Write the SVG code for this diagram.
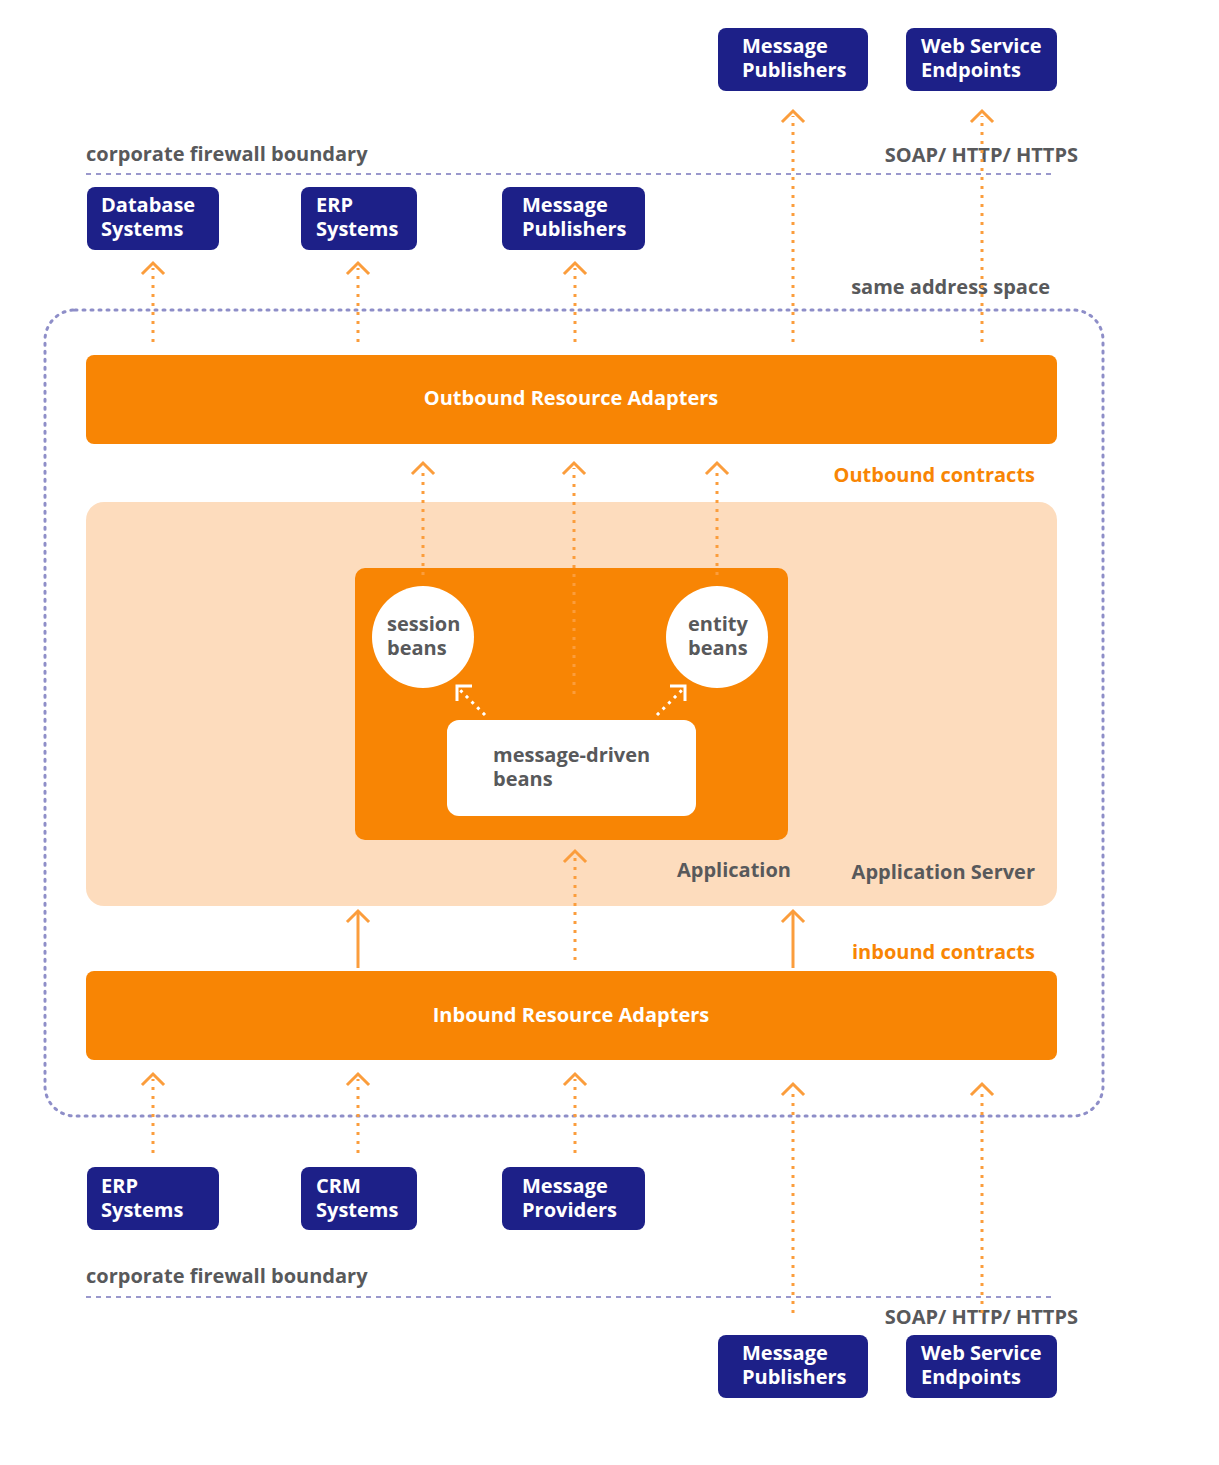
<svg xmlns="http://www.w3.org/2000/svg" width="1219" height="1465" viewBox="0 0 1219 1465">
<style>
text{font-family:"Open Sans","Liberation Sans",sans-serif;font-weight:700;font-size:20px}
.nb{fill:#1d2088}
.nt{fill:#ffffff}
.gt{fill:#58595b}
.ot{fill:#f88504}
.bar{fill:#f88504}
.dl{stroke:#fb9d3c;stroke-width:3;stroke-dasharray:3 6;fill:none}
.sl{stroke:#fb9d3c;stroke-width:3;fill:none}
.hd{stroke:#fb9d3c;stroke-width:3;fill:none;stroke-linecap:square}
.fw{stroke:#9a98cc;stroke-width:2;stroke-dasharray:5 5;fill:none}
.wd{stroke:#ffffff;stroke-width:3;stroke-dasharray:3 5;fill:none}
.wh{stroke:#ffffff;stroke-width:3;fill:none}
</style>
<rect width="1219" height="1465" fill="#ffffff"/>
<g id="boundaries">
<rect x="45" y="310" width="1058" height="806" rx="30" fill="none" stroke="#8e8ec8" stroke-width="3" stroke-dasharray="2 6" stroke-linecap="round"/>
<line class="fw" x1="86" y1="174" x2="1055" y2="174"/>
<line class="fw" x1="86" y1="1297" x2="1055" y2="1297"/>
<text class="gt" x="86" y="161">corporate firewall boundary</text>
<text class="gt" x="1078" y="162" text-anchor="end">SOAP/ HTTP/ HTTPS</text>
<text class="gt" x="1050" y="294" text-anchor="end">same address space</text>
<text class="gt" x="86" y="1283">corporate firewall boundary</text>
<text class="gt" x="1078" y="1324" text-anchor="end">SOAP/ HTTP/ HTTPS</text>
</g>
<g id="app-server">
<rect x="86" y="502" width="971" height="404" rx="18" fill="#fddcbd"/>
<text class="gt" x="1035" y="879" text-anchor="end">Application Server</text>
</g>
<g id="application">
<rect x="355" y="568" width="433" height="272" rx="10" fill="#f88504"/>
<text class="gt" x="677" y="877">Application</text>
</g>
<g id="outbound">
<rect class="bar" x="86" y="355" width="971" height="89" rx="8"/>
<text class="nt" x="571" y="405" text-anchor="middle">Outbound Resource Adapters</text>
</g>
<g id="inbound">
<rect class="bar" x="86" y="971" width="971" height="89" rx="8"/>
<text class="nt" x="571" y="1022" text-anchor="middle">Inbound Resource Adapters</text>
</g>
<text class="ot" x="1035" y="482" text-anchor="end">Outbound contracts</text>
<text class="ot" x="1035" y="959" text-anchor="end">inbound contracts</text>
<g id="session-beans">
<circle cx="423" cy="637" r="51" fill="#ffffff"/>
<text class="gt" x="387" y="631">session</text>
<text class="gt" x="387" y="655">beans</text>
</g>
<g id="entity-beans">
<circle cx="717" cy="637" r="51" fill="#ffffff"/>
<text class="gt" x="688" y="631">entity</text>
<text class="gt" x="688" y="655">beans</text>
</g>
<g id="mdb">
<rect x="447" y="720" width="249" height="96" rx="12" fill="#ffffff"/>
<text class="gt" x="493" y="762">message-driven</text>
<text class="gt" x="493" y="786">beans</text>
</g>
<g id="n-top-mp"><rect class="nb" x="718" y="28" width="150" height="63" rx="8"/><text class="nt" x="742" y="53">Message</text><text class="nt" x="742" y="77">Publishers</text></g>
<g id="n-top-ws"><rect class="nb" x="906" y="28" width="151" height="63" rx="8"/><text class="nt" x="921" y="53">Web Service</text><text class="nt" x="921" y="77">Endpoints</text></g>
<g id="n-db"><rect class="nb" x="87" y="187" width="132" height="63" rx="8"/><text class="nt" x="101" y="212">Database</text><text class="nt" x="101" y="236">Systems</text></g>
<g id="n-erp1"><rect class="nb" x="301" y="187" width="116" height="63" rx="8"/><text class="nt" x="316" y="212">ERP</text><text class="nt" x="316" y="236">Systems</text></g>
<g id="n-mp1"><rect class="nb" x="502" y="187" width="143" height="63" rx="8"/><text class="nt" x="522" y="212">Message</text><text class="nt" x="522" y="236">Publishers</text></g>
<g id="n-erp2"><rect class="nb" x="87" y="1167" width="132" height="63" rx="8"/><text class="nt" x="101" y="1193">ERP</text><text class="nt" x="101" y="1217">Systems</text></g>
<g id="n-crm"><rect class="nb" x="301" y="1167" width="116" height="63" rx="8"/><text class="nt" x="316" y="1193">CRM</text><text class="nt" x="316" y="1217">Systems</text></g>
<g id="n-mprov"><rect class="nb" x="502" y="1167" width="143" height="63" rx="8"/><text class="nt" x="522" y="1193">Message</text><text class="nt" x="522" y="1217">Providers</text></g>
<g id="n-bot-mp"><rect class="nb" x="718" y="1335" width="150" height="63" rx="8"/><text class="nt" x="742" y="1360">Message</text><text class="nt" x="742" y="1384">Publishers</text></g>
<g id="n-bot-ws"><rect class="nb" x="906" y="1335" width="151" height="63" rx="8"/><text class="nt" x="921" y="1360">Web Service</text><text class="nt" x="921" y="1384">Endpoints</text></g>
<g id="connectors">
<line class="dl" x1="793" y1="342" x2="793" y2="116"/><path class="hd" d="M783 121 L793 111 L803 121"/>
<line class="dl" x1="982" y1="342" x2="982" y2="116"/><path class="hd" d="M972 121 L982 111 L992 121"/>
<line class="dl" x1="153" y1="342" x2="153" y2="268"/><path class="hd" d="M143 273 L153 263 L163 273"/>
<line class="dl" x1="358" y1="342" x2="358" y2="268"/><path class="hd" d="M348 273 L358 263 L368 273"/>
<line class="dl" x1="575" y1="342" x2="575" y2="268"/><path class="hd" d="M565 273 L575 263 L585 273"/>
<line class="dl" x1="423" y1="575" x2="423" y2="468"/><path class="hd" d="M413 473 L423 463 L433 473"/>
<line class="dl" x1="574" y1="694" x2="574" y2="468"/><path class="hd" d="M564 473 L574 463 L584 473"/>
<line class="dl" x1="717" y1="575" x2="717" y2="468"/><path class="hd" d="M707 473 L717 463 L727 473"/>
<line class="dl" x1="575" y1="960" x2="575" y2="856"/><path class="hd" d="M565 861 L575 851 L585 861"/>
<line class="sl" x1="358" y1="968" x2="358" y2="913"/><path class="hd" d="M348 921 L358 911 L368 921"/>
<line class="sl" x1="793" y1="968" x2="793" y2="913"/><path class="hd" d="M783 921 L793 911 L803 921"/>
<line class="dl" x1="153" y1="1153" x2="153" y2="1079"/><path class="hd" d="M143 1084 L153 1074 L163 1084"/>
<line class="dl" x1="358" y1="1153" x2="358" y2="1079"/><path class="hd" d="M348 1084 L358 1074 L368 1084"/>
<line class="dl" x1="575" y1="1153" x2="575" y2="1079"/><path class="hd" d="M565 1084 L575 1074 L585 1084"/>
<line class="dl" x1="793" y1="1313" x2="793" y2="1089"/><path class="hd" d="M783 1094 L793 1084 L803 1094"/>
<line class="dl" x1="982" y1="1313" x2="982" y2="1089"/><path class="hd" d="M972 1094 L982 1084 L992 1094"/>
<line class="wd" x1="485" y1="715" x2="460" y2="690"/><path class="wh" d="M457 701 L457 686 L472 686"/>
<line class="wd" x1="657" y1="715" x2="682" y2="690"/><path class="wh" d="M670 686 L685 686 L685 701"/>
</g>
</svg>
